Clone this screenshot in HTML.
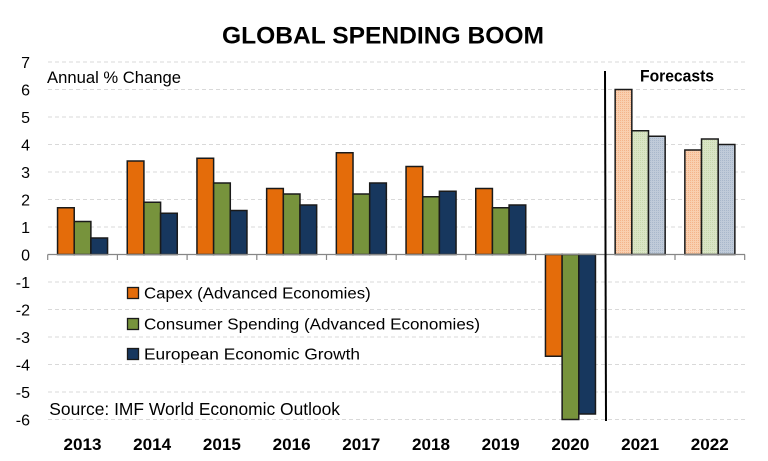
<!DOCTYPE html>
<html>
<head>
<meta charset="utf-8">
<style>
html,body{margin:0;padding:0;background:#fff;}
svg{display:block;}
text{font-family:"Liberation Sans",Arial,sans-serif;fill:#000;}
</style>
</head>
<body>
<svg width="768" height="461" viewBox="0 0 768 461" xmlns="http://www.w3.org/2000/svg">
<defs>
<pattern id="pO" width="2" height="2" patternUnits="userSpaceOnUse">
<rect width="2" height="2" fill="#F9CFAF"/><rect width="1" height="1" fill="#F4B48A"/>
</pattern>
<pattern id="pG" width="2" height="2" patternUnits="userSpaceOnUse">
<rect width="2" height="2" fill="#DAE5C6"/><rect width="1" height="1" fill="#C8D8AD"/>
</pattern>
<pattern id="pB" width="2" height="2" patternUnits="userSpaceOnUse">
<rect width="2" height="2" fill="#C0CBD9"/><rect width="1" height="1" fill="#A9B8CB"/>
</pattern>
</defs>

<!-- Title -->
<text x="383" y="43.3" font-size="24.5" font-weight="bold" text-anchor="middle" textLength="322" lengthAdjust="spacingAndGlyphs">GLOBAL SPENDING BOOM</text>

<!-- gridlines -->
<g stroke="#D9D9D9" stroke-width="1" stroke-dasharray="4,3">
<line x1="48" x2="745" y1="62" y2="62"/>
<line x1="48" x2="745" y1="89.5" y2="89.5"/>
<line x1="48" x2="745" y1="117" y2="117"/>
<line x1="48" x2="745" y1="144.5" y2="144.5"/>
<line x1="48" x2="745" y1="172" y2="172"/>
<line x1="48" x2="745" y1="199.5" y2="199.5"/>
<line x1="48" x2="745" y1="227" y2="227"/>
<line x1="48" x2="745" y1="282" y2="282"/>
<line x1="48" x2="745" y1="309.5" y2="309.5"/>
<line x1="48" x2="745" y1="337" y2="337"/>
<line x1="48" x2="745" y1="364.5" y2="364.5"/>
<line x1="48" x2="745" y1="392" y2="392"/>
<line x1="48" x2="745" y1="419.5" y2="419.5"/>
</g>

<!-- y labels -->
<g font-size="16" text-anchor="end">
<text x="30" y="68">7</text>
<text x="30" y="95.5">6</text>
<text x="30" y="123">5</text>
<text x="30" y="150.5">4</text>
<text x="30" y="178">3</text>
<text x="30" y="205.5">2</text>
<text x="30" y="233">1</text>
<text x="30" y="260.5">0</text>
<text x="30" y="288">-1</text>
<text x="30" y="315.5">-2</text>
<text x="30" y="343">-3</text>
<text x="30" y="370.5">-4</text>
<text x="30" y="398">-5</text>
<text x="30" y="425.5">-6</text>
</g>

<!-- bars -->
<g stroke="#1a1a1a" stroke-width="1.5">
<!-- 2013 -->
<rect x="57.55" y="207.75" width="16.67" height="46.75" fill="#E46C0A"/>
<rect x="74.22" y="221.5" width="16.67" height="33" fill="#77933C"/>
<rect x="90.89" y="238" width="16.67" height="16.5" fill="#17375E"/>
<!-- 2014 -->
<rect x="127.25" y="161" width="16.67" height="93.5" fill="#E46C0A"/>
<rect x="143.92" y="202.25" width="16.67" height="52.25" fill="#77933C"/>
<rect x="160.59" y="213.25" width="16.67" height="41.25" fill="#17375E"/>
<!-- 2015 -->
<rect x="196.95" y="158.25" width="16.67" height="96.25" fill="#E46C0A"/>
<rect x="213.62" y="183" width="16.67" height="71.5" fill="#77933C"/>
<rect x="230.29" y="210.5" width="16.67" height="44" fill="#17375E"/>
<!-- 2016 -->
<rect x="266.65" y="188.5" width="16.67" height="66" fill="#E46C0A"/>
<rect x="283.32" y="194" width="16.67" height="60.5" fill="#77933C"/>
<rect x="299.99" y="205" width="16.67" height="49.5" fill="#17375E"/>
<!-- 2017 -->
<rect x="336.35" y="152.75" width="16.67" height="101.75" fill="#E46C0A"/>
<rect x="353.02" y="194" width="16.67" height="60.5" fill="#77933C"/>
<rect x="369.69" y="183" width="16.67" height="71.5" fill="#17375E"/>
<!-- 2018 -->
<rect x="406.05" y="166.5" width="16.67" height="88" fill="#E46C0A"/>
<rect x="422.72" y="196.75" width="16.67" height="57.75" fill="#77933C"/>
<rect x="439.39" y="191.25" width="16.67" height="63.25" fill="#17375E"/>
<!-- 2019 -->
<rect x="475.75" y="188.5" width="16.67" height="66" fill="#E46C0A"/>
<rect x="492.42" y="207.75" width="16.67" height="46.75" fill="#77933C"/>
<rect x="509.09" y="205" width="16.67" height="49.5" fill="#17375E"/>
<!-- 2020 -->
<rect x="545.45" y="254.5" width="16.67" height="101.75" fill="#E46C0A"/>
<rect x="562.12" y="254.5" width="16.67" height="165" fill="#77933C"/>
<rect x="578.79" y="254.5" width="16.67" height="159.5" fill="#17375E"/>
<!-- 2021 -->
<rect x="615.15" y="89.5" width="16.67" height="165" fill="url(#pO)"/>
<rect x="631.82" y="130.75" width="16.67" height="123.75" fill="url(#pG)"/>
<rect x="648.49" y="136.25" width="16.67" height="118.25" fill="url(#pB)"/>
<!-- 2022 -->
<rect x="684.85" y="150" width="16.67" height="104.5" fill="url(#pO)"/>
<rect x="701.52" y="139" width="16.67" height="115.5" fill="url(#pG)"/>
<rect x="718.19" y="144.5" width="16.67" height="110" fill="url(#pB)"/>
</g>

<!-- axis -->
<line x1="47.7" x2="745" y1="254.5" y2="254.5" stroke="#868686" stroke-width="1.2"/>
<g stroke="#868686" stroke-width="1.2">
<line x1="47.7" x2="47.7" y1="254.5" y2="260"/>
<line x1="117.4" x2="117.4" y1="254.5" y2="260"/>
<line x1="187.1" x2="187.1" y1="254.5" y2="260"/>
<line x1="256.8" x2="256.8" y1="254.5" y2="260"/>
<line x1="326.5" x2="326.5" y1="254.5" y2="260"/>
<line x1="396.2" x2="396.2" y1="254.5" y2="260"/>
<line x1="465.9" x2="465.9" y1="254.5" y2="260"/>
<line x1="535.6" x2="535.6" y1="254.5" y2="260"/>
<line x1="605.3" x2="605.3" y1="254.5" y2="260"/>
<line x1="675" x2="675" y1="254.5" y2="260"/>
<line x1="744.7" x2="744.7" y1="254.5" y2="260"/>
</g>

<!-- forecast divider -->
<line x1="605" x2="606" y1="71" y2="421" stroke="#000" stroke-width="2"/>
<text x="677" y="81.5" font-size="16.5" font-weight="bold" text-anchor="middle" textLength="74" lengthAdjust="spacingAndGlyphs">Forecasts</text>

<!-- x labels -->
<g font-size="16.5" font-weight="bold" text-anchor="middle">
<text x="82.5" y="450" textLength="38" lengthAdjust="spacingAndGlyphs">2013</text>
<text x="152.2" y="450" textLength="38" lengthAdjust="spacingAndGlyphs">2014</text>
<text x="221.9" y="450" textLength="38" lengthAdjust="spacingAndGlyphs">2015</text>
<text x="291.6" y="450" textLength="38" lengthAdjust="spacingAndGlyphs">2016</text>
<text x="361.3" y="450" textLength="38" lengthAdjust="spacingAndGlyphs">2017</text>
<text x="431" y="450" textLength="38" lengthAdjust="spacingAndGlyphs">2018</text>
<text x="500.7" y="450" textLength="38" lengthAdjust="spacingAndGlyphs">2019</text>
<text x="570.4" y="450" textLength="38" lengthAdjust="spacingAndGlyphs">2020</text>
<text x="640.1" y="450" textLength="38" lengthAdjust="spacingAndGlyphs">2021</text>
<text x="709.8" y="450" textLength="38" lengthAdjust="spacingAndGlyphs">2022</text>
</g>

<!-- annotations -->
<text x="47" y="83" font-size="16.5" textLength="134" lengthAdjust="spacingAndGlyphs">Annual % Change</text>
<text x="49.3" y="415" font-size="17.5" textLength="290.7" lengthAdjust="spacingAndGlyphs">Source: IMF World Economic Outlook</text>

<!-- legend -->
<g stroke="#1a1a1a" stroke-width="1.3">
<rect x="127.5" y="287.5" width="11" height="11" fill="#E46C0A"/>
<rect x="127.5" y="318.5" width="11" height="11" fill="#77933C"/>
<rect x="127.5" y="348.5" width="11" height="11" fill="#17375E"/>
</g>
<g font-size="15.5">
<text x="144" y="298.5" textLength="226.7" lengthAdjust="spacingAndGlyphs">Capex (Advanced Economies)</text>
<text x="144" y="329.3" textLength="336" lengthAdjust="spacingAndGlyphs">Consumer Spending (Advanced Economies)</text>
<text x="144" y="359.3" textLength="216" lengthAdjust="spacingAndGlyphs">European Economic Growth</text>
</g>
</svg>
</body>
</html>
